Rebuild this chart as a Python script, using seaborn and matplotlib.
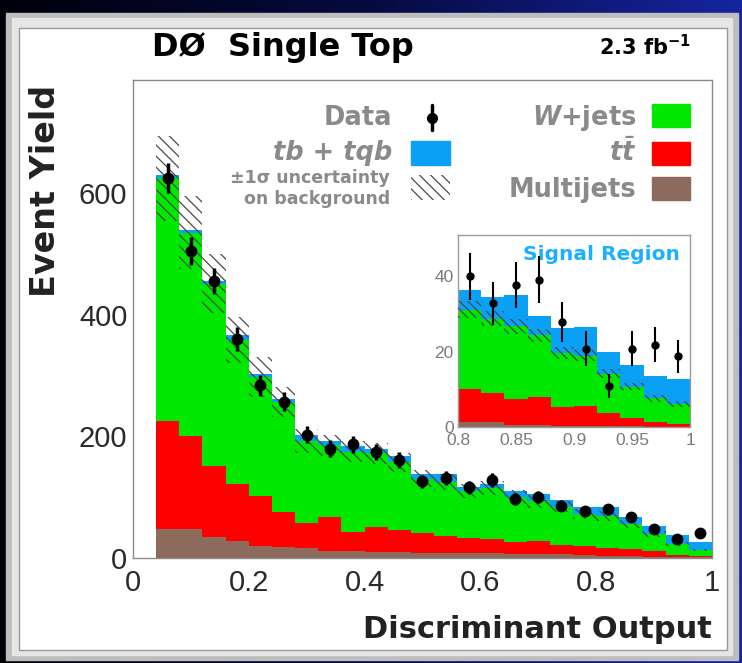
import numpy as np
import pandas as pd
import matplotlib
matplotlib.use('Agg')
import matplotlib.pyplot as plt
from matplotlib.colors import LinearSegmentedColormap
from matplotlib.patches import Rectangle
from matplotlib.ticker import MultipleLocator, FuncFormatter
import seaborn as sns

sns.set_style('white')
plt.rcParams['font.family'] = ['Liberation Sans', 'DejaVu Sans']
plt.rcParams['mathtext.fontset'] = 'custom'
plt.rcParams['mathtext.rm'] = 'DejaVu Sans:bold'
plt.rcParams['mathtext.bf'] = 'DejaVu Sans:bold'
plt.rcParams['mathtext.it'] = 'DejaVu Sans:bold:italic'
plt.rcParams['hatch.linewidth'] = 0.9
WIDE = ['DejaVu Sans']

# main plot: bins of 0.04 from 0.04 to 1.0
edges = np.round(np.arange(0.04, 1.0001, 0.04), 2)
multijets = [48, 48, 34, 28, 20, 18, 16, 11, 11, 10, 10, 9, 9, 8, 8, 7, 6, 6, 5, 4, 3, 2, 1, 1]
ttbar = [177, 152, 117, 93, 82, 57, 41, 56, 32, 41, 36, 32, 27, 25, 23, 19, 22, 15, 15, 12, 12, 9, 4, 2]
wjets = [399, 335, 300, 238, 195, 181, 135, 118, 132, 121, 111, 89, 89, 77, 84, 74, 65, 63, 52, 53, 41, 28, 18, 10]
signal = [5, 4, 5, 7, 6, 6, 10, 7, 9, 7, 10, 8, 13, 6, 6, 10, 13, 11, 12, 15, 11, 13, 15, 13]
data = [625, 505, 455, 360, 284, 257, 203, 180, 187, 175, 161, 126, 131, 116, 128, 97, 100, 86, 77, 80, 67, 48, 31, 41]
bkg_unc = [70, 60, 49, 38, 33, 25, 20, 18, 18, 17, 16, 14, 13, 12, 12, 11, 10, 9, 8, 8, 6, 5, 3, 2]

# inset (signal region): bins of 0.02 from 0.8 to 1.0
edges_sr = np.round(np.arange(0.80, 1.0001, 0.02), 2)
multijets_sr = [1.2, 1.2, 0.4, 0.4, 0.3, 0.3, 0.2, 0.2, 0.1, 0.1]
ttbar_sr = [8.8, 7.9, 6.9, 7.5, 5.1, 5.3, 3.6, 2.3, 1.2, 0.6]
wjets_sr = [21.2, 19.7, 19.5, 16.4, 14.2, 13.3, 10.3, 8.2, 6.3, 5.3]
signal_sr = [5.1, 5.8, 8.2, 5.3, 6.7, 7.6, 5.7, 5.8, 6.0, 6.7]
data_sr = [40.0, 32.9, 37.8, 39.1, 27.9, 20.8, 10.9, 20.8, 21.9, 18.8]
bkg_unc_sr = [2.2, 2.1, 2.0, 1.8, 1.6, 1.5, 1.2, 1.0, 0.9, 0.8]

procs = ['tb+tqb', 'W+jets', 'ttbar', 'Multijets']
colors = {'tb+tqb': '#0aa0f5', 'W+jets': '#00e800', 'ttbar': '#ff0000', 'Multijets': '#8c6a5c'}
hatch_col = '#4a4a4a'


def stack_frame(edges, sig, wj, tt, mj):
    centers = (edges[:-1] + edges[1:]) / 2
    rows = []
    for name, vals in zip(procs, [sig, wj, tt, mj]):
        for c, v in zip(centers, vals):
            rows.append((c, v, name))
    return pd.DataFrame(rows, columns=['x', 'w', 'proc']), centers


def draw(ax, edges, sig, wj, tt, mj, dat, unc, msize, elw, hatch):
    df, centers = stack_frame(edges, sig, wj, tt, mj)
    sns.histplot(data=df, x='x', weights='w', hue='proc', hue_order=procs,
                 multiple='stack', bins=list(edges), element='step', fill=True,
                 alpha=1, linewidth=0, palette=colors, legend=False, ax=ax)
    bkg = np.array(wj) + np.array(tt) + np.array(mj)
    ax.stairs(bkg + np.array(unc), edges, baseline=bkg - np.array(unc), fill=True,
              facecolor='none', edgecolor=hatch_col, hatch=hatch, linewidth=0, zorder=3)
    ax.errorbar(centers, dat, yerr=np.sqrt(dat), fmt='o', color='black',
                markersize=msize, elinewidth=elw, capsize=0, zorder=5)
    ax.set_xlabel('')
    ax.set_ylabel('')


fig = plt.figure(figsize=(7.42, 6.63), dpi=100)

# dark blue slide background and white beveled panel
bg = fig.add_axes([0, 0, 1, 1], zorder=-10)
bg.axis('off')
cmap = LinearSegmentedColormap.from_list('bg', ['#00000a', '#070a40', '#1525a0'])
bg.imshow(np.linspace(0, 1, 256)[None, :], aspect='auto', cmap=cmap, extent=[0, 1, 0, 1])
bg.add_patch(Rectangle((6 / 742, 3 / 663), 732 / 742, 647 / 663, color='#bdbdbd'))
bg.add_patch(Rectangle((12 / 742, 8 / 663), 720 / 742, 637 / 663, color='#e6e6e6'))
bg.add_patch(Rectangle((19 / 742, 13 / 663), 708 / 742, 622 / 663, facecolor='white',
                       edgecolor='#9a9a9a', linewidth=1))
bg.set_xlim(0, 1)
bg.set_ylim(0, 1)

ax = fig.add_axes([0.1792, 0.1584, 0.7803, 0.7210])
draw(ax, edges, signal, wjets, ttbar, multijets, data, bkg_unc, 7.5, 2.5, '\\\\\\')
ax.set_xlim(0, 1)
ax.set_ylim(0, 786)
ax.set_axisbelow(False)
ax.xaxis.set_major_locator(MultipleLocator(0.2))
ax.xaxis.set_minor_locator(MultipleLocator(0.05))
ax.yaxis.set_major_locator(MultipleLocator(200))
ax.yaxis.set_minor_locator(MultipleLocator(50))
fmt = FuncFormatter(lambda v, p: '%g' % round(v, 3))
ax.xaxis.set_major_formatter(fmt)
ax.yaxis.set_major_formatter(fmt)
ax.tick_params(which='both', direction='in', color='#444', labelcolor='#2a2a2a', labelsize=21)
ax.tick_params(axis='y', which='major', length=12, pad=4)
ax.tick_params(axis='y', which='minor', length=6)
ax.tick_params(axis='x', which='major', length=10, pad=8)
ax.tick_params(axis='x', which='minor', length=5)
for s in ax.spines.values():
    s.set_color('#8a8a8a')
    s.set_linewidth(1)

# legend drawn by hand, ROOT style
gray = '#8a8a8a'
lkw = dict(va='center', weight='bold', color=gray, transform=ax.transAxes, family=WIDE)
tx = 0.447
ax.text(tx, 0.921, 'Data', ha='right', fontsize=18.5, **lkw)
ax.text(tx, 0.847, 'tb + tqb', ha='right', fontsize=18.5, style='italic', **lkw)
ax.text(0.444, 0.795, '±1σ uncertainty', ha='right', fontsize=12.5, **lkw)
ax.text(0.444, 0.752, 'on background', ha='right', fontsize=12.5, **lkw)
ax.plot([0.516], [0.921], 'o', color='black', markersize=7, transform=ax.transAxes, clip_on=False, zorder=6)
ax.plot([0.516, 0.516], [0.895, 0.947], color='black', lw=2.5, transform=ax.transAxes, clip_on=False, zorder=6)
ax.add_patch(Rectangle((0.481, 0.822), 0.067, 0.051, color=colors['tb+tqb'], transform=ax.transAxes, clip_on=False, zorder=6))
ax.add_patch(Rectangle((0.481, 0.749), 0.067, 0.052, facecolor='none', edgecolor=hatch_col, hatch='\\\\\\',
                       linewidth=0, transform=ax.transAxes, clip_on=False, zorder=6))
rx = 0.870
ax.text(rx, 0.921, '$W$+jets', ha='right', fontsize=18.5, **lkw)
ax.text(rx, 0.847, r'$t\bar{t}$', ha='right', fontsize=18.5, **lkw)
ax.text(rx, 0.770, 'Multijets', ha='right', fontsize=18.5, **lkw)
for y0, key in [(0.902, 'W+jets'), (0.822, 'ttbar'), (0.749, 'Multijets')]:
    ax.add_patch(Rectangle((0.896, y0), 0.066, 0.048, color=colors[key], transform=ax.transAxes, clip_on=False, zorder=6))

# inset: signal region
ax2 = fig.add_axes([0.6173, 0.3560, 0.3127, 0.2896])
draw(ax2, edges_sr, signal_sr, wjets_sr, ttbar_sr, multijets_sr, data_sr, bkg_unc_sr, 5, 1.5, '\\\\\\\\')
ax2.set_xlim(0.8, 1.0)
ax2.set_ylim(0, 51)
ax2.set_axisbelow(False)
ax2.xaxis.set_major_locator(MultipleLocator(0.05))
ax2.xaxis.set_minor_locator(MultipleLocator(0.01))
ax2.yaxis.set_major_locator(MultipleLocator(20))
ax2.yaxis.set_minor_locator(MultipleLocator(5))
ax2.xaxis.set_major_formatter(fmt)
ax2.yaxis.set_major_formatter(fmt)
ax2.tick_params(which='both', direction='in', color='#555', labelcolor='#7a7a7a', labelsize=12.5)
ax2.tick_params(which='major', length=6, pad=3)
ax2.tick_params(axis='x', which='major', pad=4)
ax2.tick_params(which='minor', length=3)
for s in ax2.spines.values():
    s.set_color('#9a9a9a')
    s.set_linewidth(1)
ax2.text(0.957, 0.896, 'Signal Region', ha='right', va='center', fontsize=14.5, weight='bold',
         color='#1ab0ff', transform=ax2.transAxes, family=WIDE)

# titles
fig.text(0.205, 0.928, 'DØ  Single Top', ha='left', va='center', fontsize=23, weight='bold',
         color='black', family=WIDE)
fig.text(0.931, 0.930, r'2.3 fb$^{-1}$', ha='right', va='center', fontsize=15, weight='bold',
         color='black', family=WIDE)
fig.text(0.061, 0.872, 'Event Yield', ha='center', va='top', rotation=90, fontsize=24, weight='bold',
         color='#222', family=WIDE)
fig.text(0.960, 0.050, 'Discriminant Output', ha='right', va='center', fontsize=22, weight='bold',
         color='#222', family=WIDE)

fig.savefig('out.png', dpi=100)
